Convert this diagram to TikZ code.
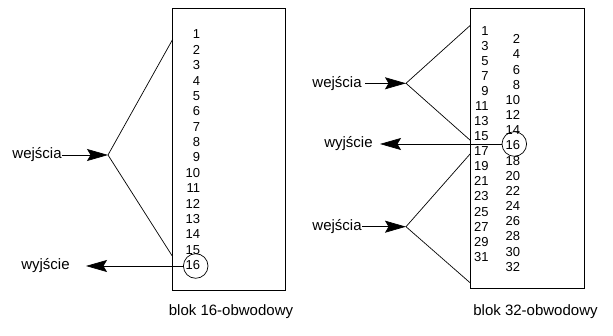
\documentclass[tikz,border=0pt]{standalone}
\usepackage{fontspec}
\setmainfont{Liberation Sans}
\usetikzlibrary{arrows.meta}
\begin{document}
\begin{tikzpicture}[x=1pt,y=-1pt,
  every path/.style={line width=0.7pt},
  box/.style={draw,line width=0.8pt,inner sep=0pt},
  num/.style={anchor=east,inner sep=0pt,font=\fontsize{13}{15}\selectfont},
  lbl/.style={inner sep=0pt,font=\fontsize{15}{18}\selectfont},
  ring/.style={draw,circle,inner sep=0pt,minimum size=24.6pt},
  arr/.style={-{Stealth[length=21pt,width=12pt,inset=3.5pt]}}]
\useasboundingbox (0,0) rectangle (613,336);
% boxes
\node[box,minimum width=113pt,minimum height=281.7pt] (b16) at (229.2,149.15) {};
\node[box,minimum width=113.3pt,minimum height=279.7pt] (b32) at (527.35,148.15) {};
% numbers left
\foreach \k in {1,...,16}{
  \node[num] (l\k) at (200.5,{34.5+15.37*(\k-1)}) {\k};
}
% numbers right
\foreach \i in {0,...,15}{
  \pgfmathtruncatemacro{\o}{2*\i+1}
  \pgfmathtruncatemacro{\e}{2*\i+2}
  \node[num] (r\o) at (489,{30.7+15.07*\i}) {\o};
  \node[num] (r\e) at (520.5,{39.3+15.16*\i}) {\e};
}
% circles
\node[ring] (c16) at (195.7,266) {};
\node[ring] (c32) at (514.3,144) {};
% left block
\coordinate (a1) at (108,155);
\coordinate (t1) at (172.7,39.3);
\coordinate (u1) at (172.7,256.7);
\node[lbl,anchor=east] (wa1) at (62,155) {wejścia};
\draw[arr] (wa1.east) -- (a1);
\draw (t1) -- (a1) -- (u1);
\node[lbl,anchor=east] (wy1) at (70,266) {wyjście};
\coordinate (o1) at (86,266);
\draw[arr] (c16.west) -- (o1);
\node[lbl] (bl1) at (231,312) {blok 16-obwodowy};
% right block
\coordinate (a2) at (406,83.3);
\coordinate (t2) at (470.7,25);
\coordinate (u2) at (470.7,140.7);
\node[lbl,anchor=east] (wa2) at (362,83.3) {wejścia};
\draw[arr] ([xshift=3pt]wa2.east) -- (a2);
\draw (t2) -- (a2) -- (u2);
\coordinate (a3) at (406,226.7);
\coordinate (t3) at (470.7,153.3);
\coordinate (u3) at (470.7,283.3);
\node[lbl,anchor=east] (wa3) at (362,226.7) {wejścia};
\draw[arr] (wa3.east) -- (a3);
\draw (t3) -- (a3) -- (u3);
\node[lbl,anchor=east] (wy2) at (373,144) {wyjście};
\coordinate (o2) at (380,144);
\draw[arr] (c32.west) -- (o2);
\node[lbl] (bl2) at (535.5,312) {blok 32-obwodowy};
\end{tikzpicture}
\end{document}
